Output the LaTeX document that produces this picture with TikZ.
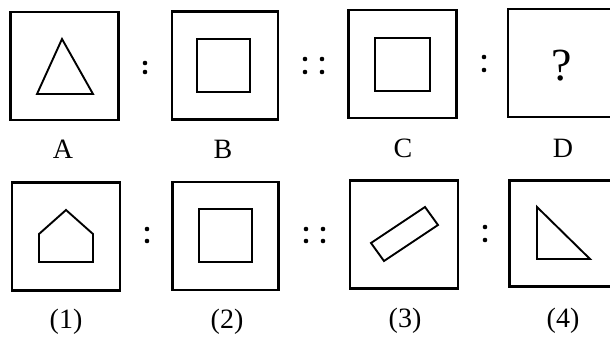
\documentclass[tikz,border=0pt]{standalone}
\usepackage{fontspec}
\setmainfont{Liberation Serif}
\usetikzlibrary{positioning}

\begin{document}
\begin{tikzpicture}[x=1pt, y=-1pt,
    frame/.style={draw, line width=2.3pt, minimum width=108pt, minimum height=108pt, inner sep=0pt},
    figure/.style={draw, line width=1.9pt, line join=miter},
    tag/.style={anchor=base, font=\fontsize{28}{32}\selectfont},
    dot/.style={fill=black}
]
\useasboundingbox (0,0) rectangle (610,338);
\clip (0,0) rectangle (610,338);

% top row
\node[frame] (boxA) at (64.5,66) {};
\node[frame, minimum width=106pt] (boxB) at (225,65.5) {};
\node[frame] (boxC) at (402.5,64) {};
\node[frame] (boxD) at (562,63) {};

\draw[figure] (62,39) -- (37,94) -- (93,94) -- cycle;
\draw[figure] (197,39) rectangle (250,92);
\draw[figure] (375,38) rectangle (430,91);
\node[anchor=base, font=\fontsize{46}{50}\selectfont] (ask) at (562,80) {?};

\node[tag] (labA) at (63,158) {A};
\node[tag] (labB) at (223,158) {B};
\node[tag] (labC) at (403,157) {C};
\node[tag] (labD) at (563,157) {D};

% bottom row
\node[frame] (box1) at (66,236.5) {};
\node[frame, minimum width=106pt] (box2) at (225.5,236) {};
\node[frame] (box3) at (404,234.5) {};
\node[frame, minimum height=106pt] (box4) at (563.5,233.5) {};

\draw[figure] (39,262) -- (93,262) -- (93,234) -- (66,210) -- (39,234) -- cycle;
\draw[figure] (199,209) rectangle (252,262);
\draw[figure] (371,243) -- (425,207) -- (438,225) -- (384,261) -- cycle;
\draw[figure] (537,207) -- (537,259) -- (590,259) -- cycle;

\node[tag] (lab1) at (66,328) {(1)};
\node[tag] (lab2) at (227,328) {(2)};
\node[tag] (lab3) at (405,327) {(3)};
\node[tag] (lab4) at (563,327) {(4)};

% ratio dots
\foreach \x/\y in {145/63, 145/72, 484/57, 484/70,
                   147/229, 147/241, 485/227, 485/240}
    \fill[dot] (\x,\y) circle (2.3pt);
\foreach \x in {305, 322} {
    \fill[dot] (\x,59) circle (2.3pt);
    \fill[dot] (\x,72) circle (2.3pt);
    \fill[dot] (\x+1,229) circle (2.3pt);
    \fill[dot] (\x+1,241) circle (2.3pt);
}
\end{tikzpicture}
\end{document}
